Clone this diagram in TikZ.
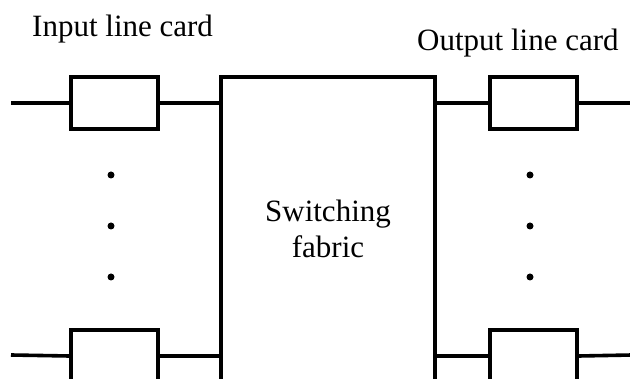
\documentclass[tikz,border=0pt]{standalone}
\usepackage{fontspec}
\setmainfont{Liberation Serif}
\begin{document}
\begin{tikzpicture}[x=1pt,y=-1pt,
  card/.style={draw,line width=3.6pt,minimum width=87pt,minimum height=52pt,inner sep=0pt},
  fabricbox/.style={draw,line width=3.6pt,minimum width=214pt,minimum height=400pt,inner sep=0pt},
  wire/.style={line width=3.6pt},
  lbl/.style={font=\fontsize{31}{37}\selectfont,inner sep=0pt,anchor=base west},
  dotmark/.style={circle,fill=black,minimum size=7pt,inner sep=0pt}]
\useasboundingbox (0,0) rectangle (630,379);
\clip (0,0) rectangle (630,379);
\node[lbl] (inlbl) at (32,37) {Input line card};
\node[lbl] (outlbl) at (417,51) {Output line card};
\node[fabricbox] (fab) at (328,277) {};
\node[font=\fontsize{31}{36}\selectfont,align=center,inner sep=0pt,anchor=base] (ftxt) at (328,258) {Switching\\fabric};
\node[card] (in1) at (114.5,103) {};
\node[card] (in2) at (114.5,356) {};
\node[card] (out1) at (533.5,103) {};
\node[card] (out2) at (533.5,356) {};
\coordinate (a1) at (11,103);
\coordinate (a2) at (11,355);
\coordinate (z1) at (632,103);
\coordinate (z2) at (632,355);
\draw[wire] (a1) -- (in1.west);
\draw[wire] (a2) -- (in2.west);
\draw[wire] (in1.east) -- (in1.east -| fab.west);
\draw[wire] (in2.east) -- (in2.east -| fab.west);
\draw[wire] (out1.west -| fab.east) -- (out1.west);
\draw[wire] (out2.west -| fab.east) -- (out2.west);
\draw[wire] (out1.east) -- (z1);
\draw[wire] (out2.east) -- (z2);
\node[dotmark] (d1) at (111,175) {};
\node[dotmark] (d2) at (111,226) {};
\node[dotmark] (d3) at (111,277) {};
\node[dotmark] (d4) at (530,175) {};
\node[dotmark] (d5) at (530,226) {};
\node[dotmark] (d6) at (530,277) {};
\end{tikzpicture}
\end{document}
